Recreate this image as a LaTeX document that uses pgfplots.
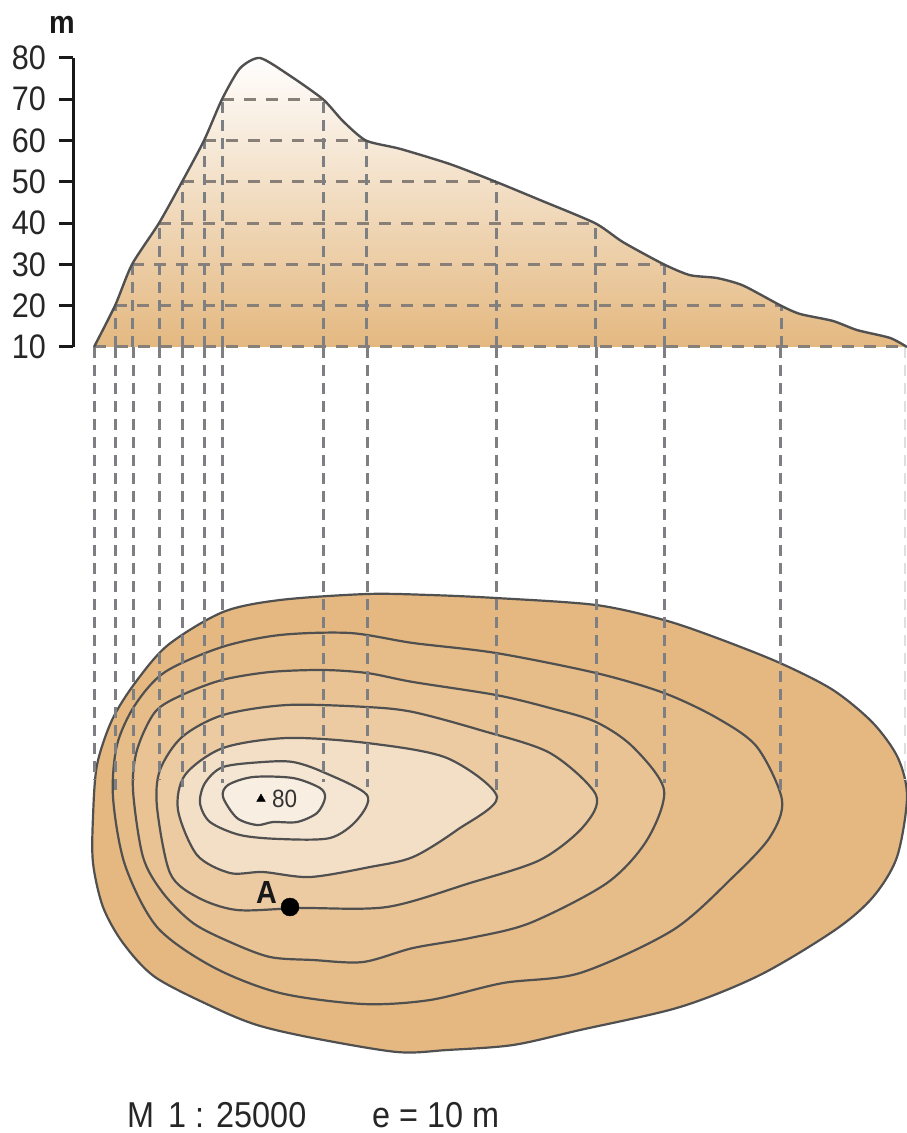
\documentclass[border=0pt]{standalone}
\usepackage{fontspec}
\setmainfont[FakeStretch=0.9]{Liberation Sans}
\usepackage{pgfplots}
\pgfplotsset{compat=1.18}

\definecolor{cA}{HTML}{E4B880}
\definecolor{cB}{HTML}{E6BC88}
\definecolor{cC}{HTML}{E9C393}
\definecolor{cD}{HTML}{ECCBA2}
\definecolor{cE}{HTML}{F3DFC6}
\definecolor{cF}{HTML}{F5E6D3}
\definecolor{cG}{HTML}{F8EEE2}
\definecolor{edge}{HTML}{505050}
\definecolor{dashc}{HTML}{7E7F82}

\pgfplotsset{
  contour/.style={draw=edge, line width=2.2pt, smooth cycle, tension=0.5, mark=none},
  drop/.style={color=dashc, line width=3pt, dash pattern=on 11pt off 7pt, mark=none},
  level/.style={color=dashc!85!brown, line width=3pt, dash pattern=on 12pt off 10pt, mark=none},
}

\begin{document}
\begin{tikzpicture}
\path[use as bounding box] (0pt,0pt) rectangle (907pt,1133pt);
% map, in picture coordinates
\begin{axis}[
    at={(0pt,0pt)}, anchor=south west,
    scale only axis, width=907pt, height=1133pt,
    xmin=0, xmax=907, ymin=0, ymax=1133, y dir=reverse,
    hide axis, clip=false,
]
\addplot[contour, fill=cA] coordinates {
    (93,817) (97,765) (112,720) (135,683) (168,645) (223,612) (280,600) (367,594)
    (430,595) (496,598) (596,605) (664,620) (717,638) (780,663) (833,690) (873,723)
    (898,758) (907,797) (897,857) (873,897) (835,930) (760,975) (680,1007) (580,1030)
    (513,1045) (447,1050) (397,1052) (313,1038) (257,1025) (213,1007) (155,977)
    (123,943) (103,907) (93,863)
};
\addplot[contour, fill=cB] coordinates {
    (113,797) (117,745) (135,705) (165,672) (222,647) (280,635) (350,633) (413,643)
    (496,653) (596,673) (664,693) (717,718) (757,747) (782,800) (770,837) (733,877)
    (673,930) (580,973) (503,983) (430,1000) (363,1004) (280,993) (213,967) (157,927)
    (125,865)
};
\addplot[contour, fill=cC] coordinates {
    (133,790) (137,750) (155,712) (182,695) (222,680) (270,672) (323,670) (367,673)
    (413,682) (496,695) (550,708) (596,722) (633,747) (664,790) (647,840) (607,883)
    (530,923) (470,938) (413,948) (363,962) (313,960) (270,957) (230,942) (193,923)
    (163,893) (143,857)
};
\addplot[contour, fill=cD] coordinates {
    (157,807) (160,770) (182,737) (223,715) (287,705) (367,707) (413,712) (480,730)
    (550,753) (596,795) (583,827) (540,860) (470,883) (387,907) (300,908) (237,910)
    (197,897) (170,873)
};
\addplot[contour, fill=cE] coordinates {
    (178,810) (185,775) (223,748) (287,738) (367,743) (447,758) (497,797) (457,830)
    (413,857) (370,867) (310,877) (263,872) (230,873) (197,855)
};
\addplot[contour, fill=cF] coordinates {
    (200,803) (205,783) (223,767) (263,762) (293,762) (323,772) (367,795)
    (357,820) (330,838) (280,839) (240,835) (210,822)
};
\addplot[contour, fill=cG] coordinates {
    (223,797) (228,785) (253,777) (293,778) (320,788) (325,798) (317,813) (297,822)
    (273,822) (257,825) (237,818)
};
% drop lines from the profile to the contours
\addplot[drop] coordinates {(94,347) (94,780)};
\addplot[drop] coordinates {(115,347) (115,790)};
\addplot[drop] coordinates {(133,347) (133,780)};
\addplot[drop] coordinates {(159,347) (159,780)};
\addplot[drop] coordinates {(182,347) (182,787)};
\addplot[drop] coordinates {(204,347) (204,777)};
\addplot[drop] coordinates {(222,347) (222,783)};
\addplot[drop] coordinates {(323,347) (323,782)};
\addplot[drop] coordinates {(367,347) (367,787)};
\addplot[drop] coordinates {(496,347) (496,790)};
\addplot[drop] coordinates {(596,347) (596,787)};
\addplot[drop] coordinates {(664,347) (664,783)};
\addplot[drop] coordinates {(780,347) (780,790)};
\addplot[color=dashc!25, line width=2pt, dash pattern=on 11pt off 7pt, mark=none] coordinates {(905,347) (905,780)};
% summit and point A
\addplot[only marks, mark=triangle*, mark size=5pt, color=black] coordinates {(261,799)};
\addplot[only marks, mark=*, mark size=9pt, color=black] coordinates {(290,907)};
\node[anchor=west, inner sep=0pt, text=black!80] at (axis cs:272,799) {\fontsize{25}{25}\selectfont 80};
\node[anchor=base west, inner sep=0pt, text=black!90] at (axis cs:256,903) {\fontsize{32}{32}\selectfont\bfseries A};
\node[anchor=base west, inner sep=0pt, text=black!85] at (axis cs:127,1127) {\fontsize{36}{36}\selectfont M\hspace{14pt}1 : 25000};
\node[anchor=base west, inner sep=0pt, text=black!85] at (axis cs:372,1127) {\fontsize{36}{36}\selectfont e = 10 m};
\node[anchor=base west, inner sep=0pt, text=black!90] at (axis cs:49,33) {\fontsize{32}{32}\selectfont\bfseries m};
\end{axis}
% profile, heights in metres
\begin{axis}[
    at={(73pt,786pt)}, anchor=south west,
    scale only axis, width=834pt, height=289pt,
    xmin=73, xmax=907, ymin=10, ymax=80,
    axis x line=none, axis y line=left,
    axis line style={-, line width=3pt, color=black!90},
    ytick={10,20,...,80},
    tick style={line width=3pt, color=black!90},
    major tick length=14pt,
    tick align=outside,
    /pgf/number format/assume math mode=true,
    tick label style={font=\fontsize{34}{34}\selectfont, text=black!85},
    yticklabel style={inner sep=0pt, xshift=-13pt},
    clip=false,
]
\addplot[draw=none, top color=white!96!cG, bottom color=cA, smooth, tension=0.4, mark=none] coordinates {
    (94,10) (115,20) (132,30) (159,40) (182,50) (204,60) (222,70)
    (240,77.5) (260,80) (290,75.7) (323,70) (343,64.7)
    (366,60) (400,58) (450,54.3) (496,50) (540,45.6) (595,40) (623,35.4)
    (664,30) (690,27.4) (717,26.7) (743,24.9) (781,20) (800,18) (833,16.3)
    (857,14.1) (890,12.2) (907,10)
} \closedcycle;
\addplot[level] coordinates {(94,10) (907,10)};
\addplot[level] coordinates {(115,20) (781,20)};
\addplot[level] coordinates {(132,30) (664,30)};
\addplot[level] coordinates {(159,40) (595,40)};
\addplot[level] coordinates {(182,50) (496,50)};
\addplot[level] coordinates {(204,60) (366,60)};
\addplot[level] coordinates {(222,70) (323,70)};
\addplot[drop] coordinates {(115,10) (115,20)};
\addplot[drop] coordinates {(132,10) (132,30)};
\addplot[drop] coordinates {(159,10) (159,40)};
\addplot[drop] coordinates {(182,10) (182,50)};
\addplot[drop] coordinates {(204,10) (204,60)};
\addplot[drop] coordinates {(222,10) (222,70)};
\addplot[drop] coordinates {(323,10) (323,70)};
\addplot[drop] coordinates {(366,10) (366,60)};
\addplot[drop] coordinates {(496,10) (496,50)};
\addplot[drop] coordinates {(595,10) (595,40)};
\addplot[drop] coordinates {(664,10) (664,30)};
\addplot[drop] coordinates {(781,10) (781,20)};
\addplot[draw=edge, line width=2.4pt, smooth, tension=0.4, mark=none] coordinates {
    (94,10) (115,20) (132,30) (159,40) (182,50) (204,60) (222,70)
    (240,77.5) (260,80) (290,75.7) (323,70) (343,64.7)
    (366,60) (400,58) (450,54.3) (496,50) (540,45.6) (595,40) (623,35.4)
    (664,30) (690,27.4) (717,26.7) (743,24.9) (781,20) (800,18) (833,16.3)
    (857,14.1) (890,12.2) (907,10)
};
\end{axis}
\end{tikzpicture}
\end{document}
